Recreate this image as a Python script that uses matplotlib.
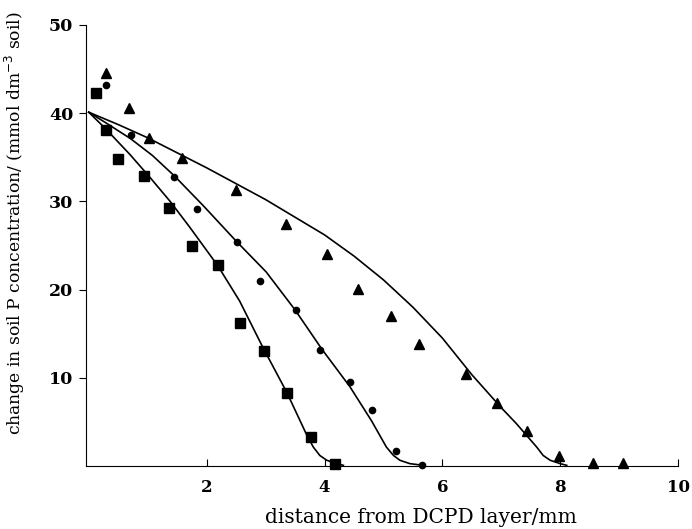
import matplotlib
matplotlib.use("Agg")
import matplotlib.pyplot as plt

# measured points (distance mm, change in P mmol dm-3)
sq_x = [0.12, 0.29, 0.50, 0.93, 1.36, 1.75, 2.20, 2.56, 2.97, 3.36, 3.77, 4.17]
sq_y = [42.3, 38.1, 34.8, 32.9, 29.3, 24.9, 22.8, 16.2, 13.0, 8.3, 3.3, 0.2]

ci_x = [0.29, 0.72, 1.44, 1.83, 2.51, 2.90, 3.51, 3.93, 4.43, 4.81, 5.21, 5.65]
ci_y = [43.2, 37.5, 32.8, 29.1, 25.4, 21.0, 17.7, 13.2, 9.5, 6.4, 1.7, 0.1]

tr_x = [0.30, 0.68, 1.03, 1.58, 2.50, 3.34, 4.04, 4.56, 5.12, 5.60, 6.40, 6.93,
        7.44, 7.98, 8.55, 9.07]
tr_y = [44.5, 40.6, 37.2, 34.9, 31.3, 27.4, 24.0, 20.1, 17.0, 13.8, 10.4, 7.1,
        4.0, 1.1, 0.4, 0.4]

# model curves
sq_fit_x = [0.0, 0.29, 0.70, 1.04, 1.38, 1.71, 2.19, 2.56, 2.95, 3.36, 3.70,
            3.81, 3.92, 4.04, 4.21, 4.32]
sq_fit_y = [40.1, 38.2, 35.3, 32.7, 30.0, 27.1, 22.7, 18.7, 13.5, 8.35, 3.5,
            2.15, 1.2, 0.65, 0.27, 0.08]

ci_fit_x = [0.0, 0.29, 0.71, 1.08, 1.45, 1.93, 2.50, 3.01, 3.50, 3.96, 4.43,
            4.80, 5.05, 5.17, 5.28, 5.45, 5.68]
ci_fit_y = [40.1, 38.9, 37.1, 35.2, 32.9, 29.6, 25.5, 22.0, 17.7, 13.2, 9.0,
            5.1, 2.15, 1.2, 0.65, 0.27, 0.08]

tr_fit_x = [0.0, 0.5, 1.0, 1.5, 2.0, 2.5, 3.0, 3.5, 4.0, 4.5, 5.0, 5.5, 6.0,
            6.5, 7.0, 7.25, 7.49, 7.60, 7.71, 7.83, 8.00, 8.11]
tr_fit_y = [40.1, 38.7, 37.2, 35.5, 33.8, 32.0, 30.2, 28.2, 26.2, 23.8, 21.1,
            18.0, 14.5, 10.35, 6.6, 4.85, 3.0, 2.15, 1.2, 0.65, 0.27, 0.08]

plt.rcParams['font.family'] = ['DejaVu Serif']

fig = plt.figure(figsize=(6.92, 5.29), dpi=100)
ax = fig.add_axes([0.124, 0.119, 0.856, 0.834])

for fx, fy in [(sq_fit_x, sq_fit_y), (ci_fit_x, ci_fit_y), (tr_fit_x, tr_fit_y)]:
    ax.plot(fx, fy, color='black', lw=1.2, clip_on=False)

ax.plot(sq_x, sq_y, 's', color='black', ms=7, clip_on=False)
ax.plot(ci_x, ci_y, 'o', color='black', ms=4.5, clip_on=False)
ax.plot(tr_x, tr_y, '^', color='black', ms=7, clip_on=False)

ax.set_xlim(-0.05, 10)
ax.set_ylim(0, 50)
ax.set_xticks([2, 4, 6, 8, 10])
ax.set_yticks([10, 20, 30, 40, 50])
ax.spines['top'].set_visible(False)
ax.spines['right'].set_visible(False)
ax.tick_params(axis='x', direction='in', length=5, pad=9, labelsize=12)
ax.tick_params(axis='y', direction='out', length=5, pad=4, labelsize=12.5)
for lab in ax.get_xticklabels() + ax.get_yticklabels():
    lab.set_fontweight('bold')

ax.set_xlabel('distance from DCPD layer/mm', fontsize=14.5)
ax.xaxis.set_label_coords(0.565, -0.095)
ax.set_ylabel('change in soil P concentration/ (mmol dm$^{-3}$ soil)', fontsize=12.3)
ax.yaxis.set_label_coords(-0.1, 0.55)

fig.savefig('out.png', dpi=100)
